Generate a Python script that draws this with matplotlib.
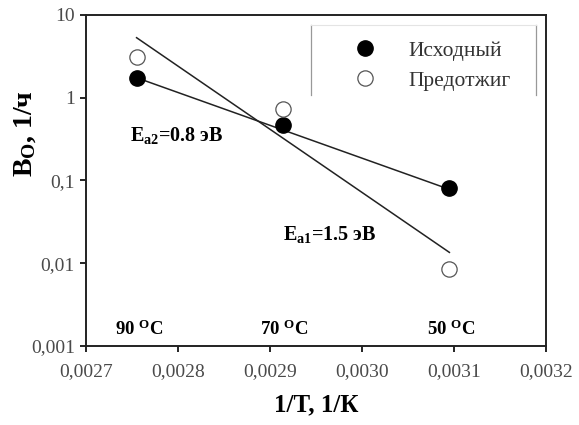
import matplotlib
matplotlib.use('Agg')
import matplotlib.pyplot as plt

plt.rcParams['font.family'] = ['Liberation Serif', 'DejaVu Serif']
plt.rcParams['mathtext.fontset'] = 'custom'
plt.rcParams['mathtext.rm'] = 'Liberation Serif'
plt.rcParams['mathtext.bf'] = 'Liberation Serif:bold'
plt.rcParams['mathtext.it'] = 'Liberation Serif:italic'

# 1/T for 90, 70, 50 C
inv_t = [0.002755, 0.002914, 0.003095]
initial = [1.74, 0.47, 0.08]        # Исходный
annealed = [3.1, 0.72, 0.0085]      # Предотжиг

# fitted lines, endpoints
fit_x = [0.002755, 0.003095]
fit_ea1 = [5.3, 0.0135]
fit_ea2 = [1.74, 0.078]

temp_labels = ['90 $^{\\mathbf{O}}$C', '70 $^{\\mathbf{O}}$C', '50 $^{\\mathbf{O}}$C']
xticks = [0.0027, 0.0028, 0.0029, 0.0030, 0.0031, 0.0032]
yticks = [0.001, 0.01, 0.1, 1, 10]
ytick_labels = ['0,001', '0,01', '0,1', '1', '10']

fig = plt.figure(figsize=(5.79, 4.25), dpi=100)
ax = fig.add_axes([0.1485, 0.186, 0.7945, 0.779])

ax.plot(fit_x, fit_ea1, color='#222222', lw=1.1)
ax.plot(fit_x, fit_ea2, color='#222222', lw=1.1)
ax.plot(inv_t, initial, 'o', ms=11, mfc='black', mec='black', label='Исходный')
ax.plot(inv_t, annealed, 'o', ms=11, mfc='white', mec='#555555', mew=0.9, label='Предотжиг')

ax.set_yscale('log')
ax.set_xlim(0.0027, 0.0032)
ax.set_ylim(0.001, 10)
ax.set_xticks(xticks)
ax.set_xticklabels([('%.4f' % v).replace('.', ',') for v in xticks])
ax.set_yticks(yticks)
ax.set_yticklabels(ytick_labels)
ax.minorticks_off()
ax.tick_params(direction='out', length=4, width=1.2, labelsize=14, labelcolor='#4a4a4a', pad=4)
ax.tick_params(axis='x', pad=8)
for s in ax.spines.values():
    s.set_linewidth(1.4)
    s.set_color('#222222')

ax.set_xlabel('1/T, 1/К', fontsize=18, fontweight='bold', labelpad=10)
ax.set_ylabel('$\\mathbf{B_O}$, 1/ч', fontsize=20, fontweight='bold')
ax.yaxis.set_label_coords(-0.104, 0.64)

ax.text(0.002758, 0.00135, temp_labels[0], fontsize=13.5, fontweight='bold', ha='center')
ax.text(0.002915, 0.00135, temp_labels[1], fontsize=13.5, fontweight='bold', ha='center')
ax.text(0.003097, 0.00135, temp_labels[2], fontsize=13.5, fontweight='bold', ha='center')
ax.text(0.002748, 0.30, '$\\mathbf{E_{a2}}$=0.8 эВ', fontsize=14.5, fontweight='bold')
ax.text(0.002914, 0.019, '$\\mathbf{E_{a1}}$=1.5 эВ', fontsize=14.5, fontweight='bold')

leg = ax.legend(loc='upper left', bbox_to_anchor=(0.56, 0.948), fontsize=15.5,
                frameon=False, handletextpad=1.4, handlelength=1.2,
                labelspacing=0.45, borderaxespad=0.0)
for t in leg.get_texts():
    t.set_color('#333333')
# legend box: light side lines and faint top
ax.plot([0.489, 0.489], [0.758, 0.970], transform=ax.transAxes, color='#999999', lw=0.9)
ax.plot([0.978, 0.978], [0.758, 0.970], transform=ax.transAxes, color='#999999', lw=0.9)
ax.plot([0.489, 0.978], [0.970, 0.970], transform=ax.transAxes, color='#e4e4e4', lw=0.8)

fig.savefig('out.png', dpi=100)
